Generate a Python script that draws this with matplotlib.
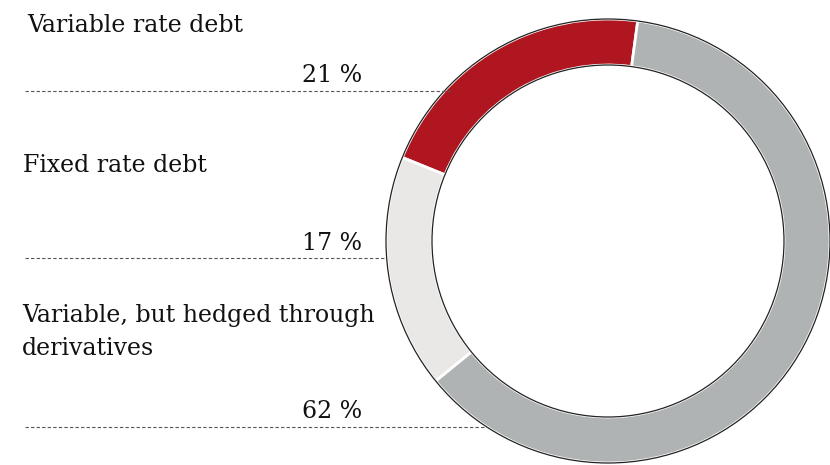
import matplotlib.pyplot as plt
from matplotlib.patches import Circle

# shares of debt, in the order they run round the ring
labels = ['Variable rate debt', 'Fixed rate debt', 'Variable, but hedged through\nderivatives']
shares = [21, 17, 62]
colors = ['#b01620', '#e9e8e6', '#b0b3b3']

fig = plt.figure(figsize=(8.3, 4.65), dpi=100)
ax = fig.add_axes([0, 0, 1, 1])
ax.axis('off')

cx, cy = 608, 241
r_out, r_in = 222, 176

# y axis is flipped (pixel coords), so clockwise in data = counterclockwise on screen
ax.pie(shares, colors=colors, center=(cx, cy), radius=r_out, startangle=-82.3,
       counterclock=False, frame=True,
       wedgeprops=dict(width=r_out - r_in, edgecolor='white', linewidth=2))
ax.add_patch(Circle((cx, cy), r_out, fill=False, edgecolor='#222222', lw=0.9))
ax.add_patch(Circle((cx, cy), r_in, fill=False, edgecolor='#222222', lw=0.9))
ax.set_xlim(0, 830)
ax.set_ylim(465, 0)
ax.set_aspect('auto')

font = dict(family='DejaVu Serif', fontsize=17, color='#111111')
label_x = [27, 23, 22]
label_y = [32, 172, 322]   # baseline of first line
pct_y = [82, 250, 418]
line_y = [91, 258, 427]
line_end = [452, 385, 487]

for i in range(3):
    for j, part in enumerate(labels[i].split('\n')):
        ax.text(label_x[i], label_y[i] + 33 * j, part, ha='left', va='baseline', **font)
    ax.text(362, pct_y[i], '%d %%' % shares[i], ha='right', va='baseline', **font)
    ax.plot([25, line_end[i]], [line_y[i], line_y[i]], color='#555555',
            lw=0.8, dashes=(3, 2))

fig.savefig('out.png', dpi=100)
